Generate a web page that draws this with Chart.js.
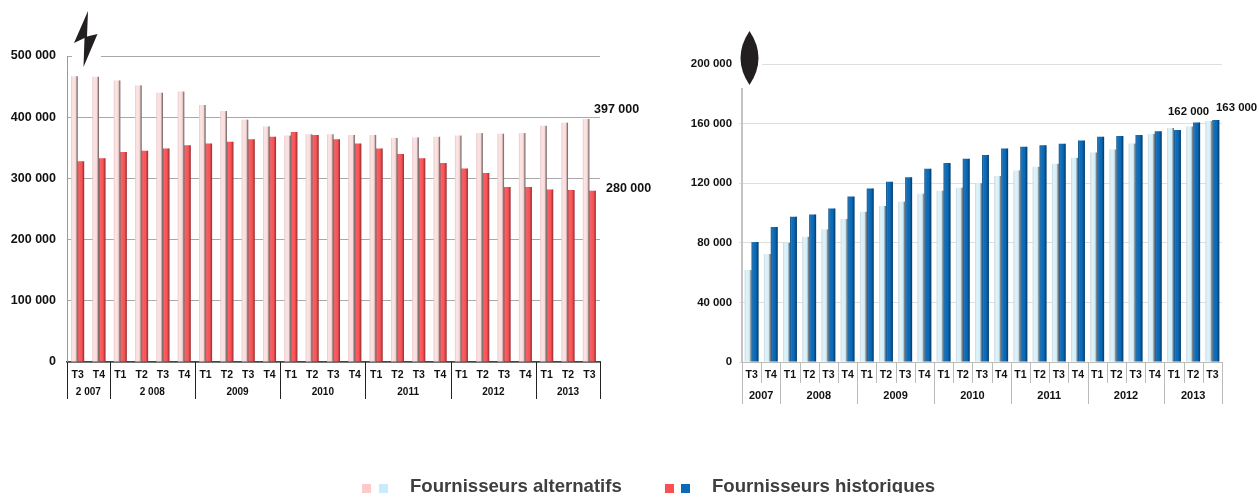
<!DOCTYPE html>
<html>
<head>
<meta charset="utf-8">
<script src="https://cdn.jsdelivr.net/npm/chart.js@4/dist/chart.umd.min.js"></script>
<style>
    html, body { margin: 0; width: 1258px; height: 493px; overflow: hidden; background: #fff; }
    canvas { position: absolute; top: 0; }
    #elecChart { left: 0; }
    #gasChart { left: 660px; }
    .swatch { position: absolute; top: 484px; width: 9px; height: 9px; }
    .legendText { position: absolute; top: 475px; font: bold 18.6px "Liberation Sans", sans-serif; color: #3f3f3f; white-space: nowrap; }
</style>
</head>
<body>
<canvas id="elecChart" width="660" height="493"></canvas>
<canvas id="gasChart" width="598" height="493"></canvas>

<div class="swatch" style="left:362px;background:#fdc9c9"></div>
<div class="swatch" style="left:379px;background:#c9ebfb"></div>
<div class="legendText" style="left:410px">Fournisseurs alternatifs</div>
<div class="swatch" style="left:665px;background:#fb4f51"></div>
<div class="swatch" style="left:681px;background:#0a6ab8"></div>
<div class="legendText" style="left:712px">Fournisseurs historiques</div>

<script>
const quarters = ["T3","T4","T1","T2","T3","T4","T1","T2","T3","T4","T1","T2","T3","T4","T1","T2","T3","T4","T1","T2","T3","T4","T1","T2","T3"];
const elecYears = ["2 007","2 007","2 008","2 008","2 008","2 008","2009","2009","2009","2009","2010","2010","2010","2010","2011","2011","2011","2011","2012","2012","2012","2012","2013","2013","2013"];
const gasYears = ["2007","2007","2008","2008","2008","2008","2009","2009","2009","2009","2010","2010","2010","2010","2011","2011","2011","2011","2012","2012","2012","2012","2013","2013","2013"];

const elecAlternatifs = [467000,466000,460000,452000,440000,442000,420000,410000,396000,385000,370000,372000,372000,371000,371000,366000,367000,368000,370000,374000,373000,374000,386000,391000,397000];
const elecHistoriques = [328000,333000,343000,345000,349000,354000,357000,360000,364000,368000,376000,371000,364000,357000,349000,340000,333000,325000,316000,309000,286000,286000,282000,281000,280000];

const gasAlternatifs = [61700,72500,80000,84000,89000,96000,100800,104700,107600,113000,115000,117000,120000,124800,128600,131000,133000,137000,140600,142600,146600,153000,157000,158000,161700];
const gasHistoriques = [80500,90600,97500,99000,103000,111000,116500,121000,124000,129700,133500,136400,139000,143300,144500,145400,146500,148600,151200,151700,152300,154800,155700,160800,162400];

const elecTicks = [0,100000,200000,300000,400000,500000];
const gasTicks = [0,40000,80000,120000,160000,200000];

function spaced(v) {
    return String(v).replace(/\B(?=(\d{3})+$)/g, " ");
}

// shading painted over each bar, the bars themselves come from chart.js
const lightShade = [[0,"rgba(190,150,150,0.35)"],[0.25,"rgba(255,255,255,0.25)"],[0.6,"rgba(255,255,255,0)"],[0.78,"rgba(70,60,60,0.3)"],[1,"rgba(50,45,45,0.8)"]];
const darkShade = [[0,"rgba(0,0,0,0.35)"],[0.25,"rgba(255,255,255,0.06)"],[0.6,"rgba(0,0,0,0)"],[1,"rgba(0,0,0,0.45)"]];

const shadeBars = {
    id: "shadeBars",
    afterDatasetsDraw(chart) {
        const ctx = chart.ctx;
        chart.data.datasets.forEach((ds, d) => {
            const shade = d == 0 ? lightShade : darkShade;
            chart.getDatasetMeta(d).data.forEach((bar) => {
                const left = bar.x - bar.width / 2;
                const g = ctx.createLinearGradient(left, 0, left + bar.width, 0);
                shade.forEach((s) => g.addColorStop(s[0], s[1]));
                ctx.fillStyle = g;
                ctx.fillRect(left, bar.y, bar.width, bar.base - bar.y);
            });
        });
    }
};

// year row and separators under the quarter labels
const yearRow = {
    id: "yearRow",
    afterDraw(chart, args, o) {
        const ctx = chart.ctx, x = chart.scales.x, base = chart.chartArea.bottom;
        const step = x.width / quarters.length;
        ctx.save();
        ctx.strokeStyle = o.lineColor;
        ctx.lineWidth = 1;
        ctx.fillStyle = "#111";
        ctx.font = o.font;
        ctx.textAlign = "center";
        ctx.textBaseline = "middle";
        let start = 0;
        for (let i = 0; i <= o.years.length; i++) {
            if (i > 0 && i < o.years.length && o.years[i] == o.years[i - 1]) {
                if (o.quarterBottom) {
                    const sx = Math.round(x.left + i * step) + 0.5;
                    ctx.beginPath(); ctx.moveTo(sx, base); ctx.lineTo(sx, o.quarterBottom); ctx.stroke();
                }
                continue;
            }
            const sx = Math.round(x.left + i * step) + 0.5;
            ctx.beginPath(); ctx.moveTo(sx, base); ctx.lineTo(sx, o.yearBottom); ctx.stroke();
            if (i > 0) {
                ctx.fillText(o.years[i - 1], x.left + (start + i) / 2 * step, o.yearY);
                start = i;
            }
        }
        ctx.restore();
    }
};

// value callouts and the energy icon
const extras = {
    id: "extras",
    afterDraw(chart, args, o) {
        const ctx = chart.ctx;
        ctx.save();
        ctx.fillStyle = "#fff";
        ctx.fillRect(o.mask[0], o.mask[1], o.mask[2], o.mask[3]);
        ctx.fillStyle = "#231f20";
        ctx.beginPath();
        o.icon(ctx);
        ctx.fill();
        ctx.fillStyle = "#111";
        ctx.font = o.font;
        ctx.textBaseline = "middle";
        o.callouts.forEach((c) => ctx.fillText(c[0], c[1], c[2]));
        ctx.restore();
    }
};

function makeChart(id, cfg) {
    return new Chart(document.getElementById(id).getContext("2d"), {
        type: "bar",
        data: {
            labels: quarters,
            datasets: [
                { label: "Fournisseurs alternatifs", data: cfg.alternatifs, backgroundColor: cfg.lightColor, categoryPercentage: cfg.groupWidth, barPercentage: 1 },
                { label: "Fournisseurs historiques", data: cfg.historiques, backgroundColor: cfg.darkColor, categoryPercentage: cfg.groupWidth, barPercentage: 1 }
            ]
        },
        plugins: [shadeBars, yearRow, extras],
        options: {
            responsive: false,
            animation: false,
            layout: { padding: { top: cfg.top, right: cfg.right, left: 0, bottom: 0 } },
            plugins: {
                legend: { display: false },
                tooltip: { enabled: false },
                yearRow: cfg.yearRow,
                extras: cfg.extras
            },
            scales: {
                x: {
                    grid: { display: false },
                    border: { color: cfg.baseColor, width: cfg.baseWidth },
                    ticks: {
                        autoSkip: false, maxRotation: 0, padding: -1,
                        color: "#111",
                        font: { family: "Liberation Sans", weight: "bold", size: cfg.quarterSize }
                    },
                    afterFit(scale) { scale.height = 493 - cfg.baseline; }
                },
                y: {
                    min: 0,
                    max: cfg.ticks[cfg.ticks.length - 1],
                    afterBuildTicks(scale) { scale.ticks = cfg.ticks.map((v) => ({ value: v })); },
                    grid: { color: cfg.gridColor, lineWidth: 1, tickLength: cfg.tickLength, drawTicks: cfg.tickLength > 0 },
                    border: { color: cfg.axisColor, width: cfg.axisWidth },
                    ticks: {
                        padding: cfg.labelGap,
                        color: "#111",
                        font: { family: "Liberation Sans", weight: "bold", size: cfg.valueSize },
                        callback: (v) => spaced(v)
                    },
                    afterFit(scale) { scale.width = cfg.left; }
                }
            }
        }
    });
}

makeChart("elecChart", {
    alternatifs: elecAlternatifs, historiques: elecHistoriques, ticks: elecTicks,
    lightColor: "#fbdcdc", darkColor: "#fd5558", groupWidth: 0.61,
    top: 56, right: 60, left: 67, baseline: 362,
    baseColor: "#444", baseWidth: 1.5, axisColor: "#999", axisWidth: 1,
    gridColor: "#a8a8a8", tickLength: 0, labelGap: 11, valueSize: 12.5, quarterSize: 10.5,
    yearRow: { years: elecYears, lineColor: "#222", yearBottom: 399, yearY: 392, font: "bold 10px 'Liberation Sans'" },
    extras: {
        mask: [72, 50, 29, 12],
        icon(ctx) {
            ctx.moveTo(88, 11); ctx.lineTo(74, 43); ctx.lineTo(84.5, 38); ctx.lineTo(83.5, 67);
            ctx.lineTo(97.5, 34); ctx.lineTo(87, 36.5); ctx.closePath();
        },
        font: "bold 12.5px 'Liberation Sans'",
        callouts: [[spaced(397000), 594, 110], [spaced(280000), 606, 189]]
    }
});

makeChart("gasChart", {
    alternatifs: gasAlternatifs, historiques: gasHistoriques, ticks: gasTicks,
    lightColor: "#d3f0fb", darkColor: "#0a6ab8", groupWidth: 0.72,
    top: 64, right: 36, left: 82, baseline: 362,
    baseColor: "#bbb", baseWidth: 1, axisColor: "#c4c4c4", axisWidth: 2,
    gridColor: "#dedede", tickLength: 3, labelGap: 7, valueSize: 11.4, quarterSize: 10.5,
    yearRow: { years: gasYears, lineColor: "#bbb", quarterBottom: 383, yearBottom: 404, yearY: 396, font: "bold 11px 'Liberation Sans'" },
    extras: {
        mask: [72, 58, 30, 30],
        icon(ctx) {
            ctx.moveTo(89.5, 31);
            ctx.quadraticCurveTo(71.5, 58, 89.5, 85);
            ctx.quadraticCurveTo(107.5, 58, 89.5, 31);
        },
        font: "bold 11.4px 'Liberation Sans'",
        callouts: [[spaced(162000), 508, 112], [spaced(163000), 556, 108]]
    }
});
</script>
</body>
</html>
